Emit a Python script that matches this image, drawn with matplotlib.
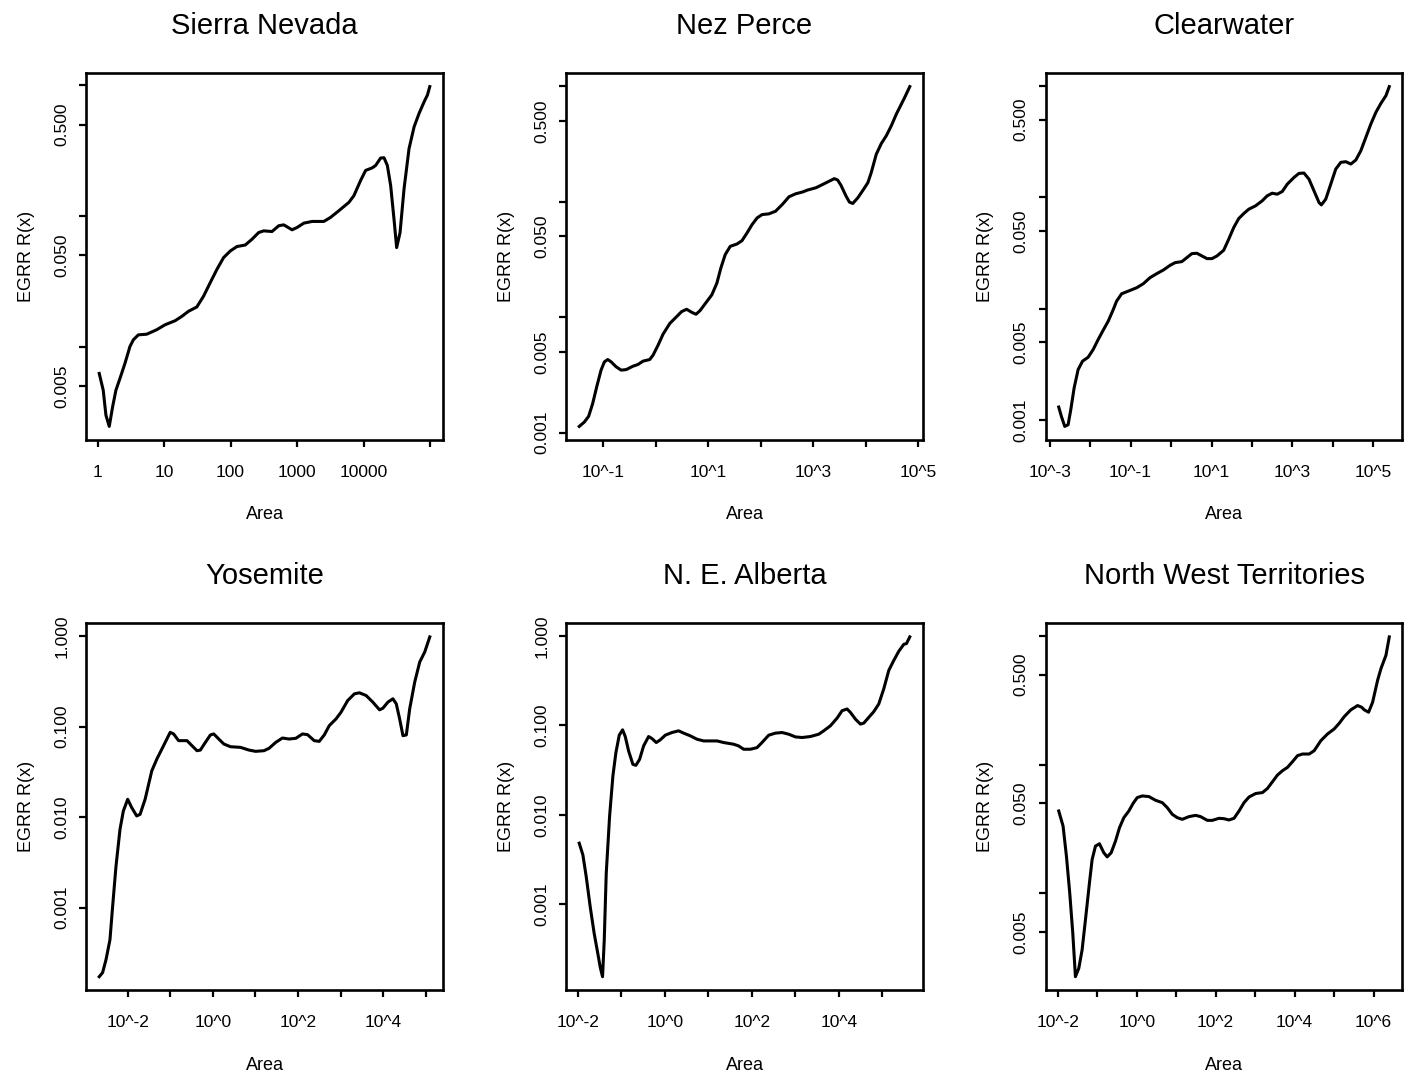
import numpy as np
import matplotlib
matplotlib.use("Agg")
import matplotlib.pyplot as plt

plt.rcParams['font.family'] = ['Liberation Sans', 'DejaVu Sans']

# log10(Area) and log10(EGRR R(x)) for each region
sierra_logA = [0.025, 0.085, 0.126, 0.176, 0.226, 0.276, 0.337, 0.412, 0.487, 0.538,
               0.613, 0.739, 0.889, 1.015, 1.166, 1.266, 1.367, 1.492, 1.593, 1.693,
               1.794, 1.894, 1.995, 2.095, 2.221, 2.322, 2.422, 2.497, 2.623, 2.724,
               2.799, 2.925, 3.000, 3.101, 3.226, 3.402, 3.503, 3.628, 3.779, 3.854,
               3.955, 4.030, 4.131, 4.181, 4.256, 4.307, 4.357, 4.407, 4.457, 4.497,
               4.548, 4.608, 4.683, 4.759, 4.834, 4.910, 4.960, 4.995]
sierra_logR = [-2.204, -2.332, -2.524, -2.609, -2.460, -2.332, -2.242, -2.127, -1.998, -1.947,
               -1.909, -1.904, -1.870, -1.832, -1.801, -1.768, -1.729, -1.696, -1.614, -1.511,
               -1.409, -1.319, -1.268, -1.234, -1.222, -1.178, -1.127, -1.114, -1.119, -1.075,
               -1.068, -1.106, -1.088, -1.055, -1.042, -1.042, -1.011, -0.960, -0.896, -0.845,
               -0.729, -0.652, -0.632, -0.614, -0.557, -0.555, -0.614, -0.768, -1.024, -1.242,
               -1.127, -0.793, -0.486, -0.319, -0.216, -0.127, -0.075, -0.011]

nez_logA = [-1.461, -1.365, -1.282, -1.205, -1.128, -1.045, -0.981, -0.917, -0.853, -0.757,
            -0.661, -0.565, -0.437, -0.341, -0.245, -0.117, -0.053, 0.043, 0.139, 0.267,
            0.395, 0.491, 0.587, 0.683, 0.766, 0.843, 0.971, 1.067, 1.163, 1.239,
            1.322, 1.418, 1.546, 1.642, 1.738, 1.834, 1.930, 2.026, 2.154, 2.282,
            2.410, 2.538, 2.666, 2.794, 2.890, 3.050, 3.146, 3.274, 3.402, 3.466,
            3.530, 3.626, 3.690, 3.754, 3.850, 3.946, 4.042, 4.106, 4.202, 4.298,
            4.393, 4.489, 4.585, 4.681, 4.745, 4.841]
nez_logR = [-2.947, -2.910, -2.860, -2.750, -2.605, -2.460, -2.388, -2.368, -2.388, -2.431,
            -2.460, -2.455, -2.426, -2.411, -2.382, -2.368, -2.330, -2.243, -2.147, -2.055,
            -1.997, -1.953, -1.933, -1.959, -1.976, -1.944, -1.866, -1.808, -1.707, -1.576,
            -1.460, -1.388, -1.368, -1.339, -1.272, -1.200, -1.142, -1.113, -1.107, -1.084,
            -1.026, -0.959, -0.933, -0.918, -0.901, -0.881, -0.860, -0.831, -0.802, -0.814,
            -0.860, -0.953, -1.005, -1.017, -0.968, -0.904, -0.837, -0.750, -0.591, -0.498,
            -0.431, -0.344, -0.243, -0.156, -0.098, -0.005]

clear_logA = [-2.777, -2.711, -2.628, -2.545, -2.479, -2.396, -2.297, -2.189, -2.049, -1.925,
              -1.801, -1.677, -1.553, -1.428, -1.346, -1.222, -1.056, -0.850, -0.684, -0.519,
              -0.353, -0.188, -0.022, 0.102, 0.267, 0.391, 0.515, 0.639, 0.763, 0.888,
              1.012, 1.136, 1.301, 1.425, 1.549, 1.673, 1.797, 1.921, 2.087, 2.252,
              2.376, 2.500, 2.624, 2.749, 2.873, 3.038, 3.162, 3.286, 3.410, 3.534,
              3.658, 3.716, 3.824, 3.948, 4.072, 4.196, 4.320, 4.444, 4.568, 4.692,
              4.816, 4.940, 5.064, 5.189, 5.313, 5.395]
clear_logR = [-2.884, -2.968, -3.058, -3.043, -2.908, -2.712, -2.547, -2.472, -2.436, -2.367,
              -2.277, -2.193, -2.112, -2.007, -1.932, -1.866, -1.842, -1.812, -1.775, -1.721,
              -1.685, -1.652, -1.610, -1.586, -1.577, -1.541, -1.505, -1.502, -1.526, -1.550,
              -1.550, -1.526, -1.475, -1.376, -1.271, -1.190, -1.145, -1.106, -1.076, -1.031,
              -0.986, -0.962, -0.971, -0.947, -0.881, -0.821, -0.784, -0.781, -0.836, -0.941,
              -1.046, -1.067, -1.016, -0.881, -0.745, -0.685, -0.679, -0.700, -0.664, -0.580,
              -0.460, -0.340, -0.235, -0.154, -0.085, -0.004]

yose_logA = [-2.669, -2.590, -2.511, -2.417, -2.354, -2.275, -2.181, -2.102, -2.000, -1.906,
             -1.788, -1.709, -1.591, -1.434, -1.315, -1.158, -1.001, -0.922, -0.804, -0.607,
             -0.489, -0.371, -0.293, -0.175, -0.057, 0.022, 0.140, 0.258, 0.415, 0.651,
             0.848, 1.006, 1.202, 1.320, 1.478, 1.635, 1.792, 1.950, 2.107, 2.225,
             2.382, 2.500, 2.618, 2.736, 2.894, 3.012, 3.169, 3.327, 3.445, 3.602,
             3.759, 3.917, 3.995, 4.113, 4.231, 4.310, 4.389, 4.467, 4.546, 4.625,
             4.743, 4.861, 4.979, 5.097]
yose_logR = [-3.761, -3.716, -3.576, -3.354, -2.985, -2.542, -2.135, -1.932, -1.803, -1.895,
             -1.987, -1.969, -1.803, -1.489, -1.359, -1.212, -1.064, -1.082, -1.156, -1.156,
             -1.212, -1.267, -1.260, -1.175, -1.093, -1.082, -1.138, -1.193, -1.223, -1.230,
             -1.260, -1.274, -1.267, -1.241, -1.175, -1.127, -1.138, -1.130, -1.082, -1.090,
             -1.156, -1.164, -1.093, -0.990, -0.916, -0.842, -0.713, -0.639, -0.628, -0.658,
             -0.731, -0.816, -0.798, -0.731, -0.694, -0.750, -0.916, -1.101, -1.093, -0.805,
             -0.510, -0.288, -0.177, -0.011]

alberta_logA = [-1.969, -1.885, -1.808, -1.716, -1.624, -1.540, -1.486, -1.433, -1.394, -1.348,
                -1.271, -1.195, -1.126, -1.049, -0.972, -0.911, -0.834, -0.735, -0.666, -0.581,
                -0.489, -0.374, -0.298, -0.198, -0.106, 0.009, 0.163, 0.316, 0.431, 0.584,
                0.738, 0.891, 1.198, 1.351, 1.581, 1.696, 1.811, 1.965, 2.118, 2.233,
                2.387, 2.540, 2.693, 2.847, 3.000, 3.153, 3.345, 3.537, 3.652, 3.805,
                3.959, 4.074, 4.189, 4.265, 4.380, 4.495, 4.572, 4.687, 4.802, 4.917,
                5.032, 5.147, 5.262, 5.377, 5.492, 5.554, 5.630]
alberta_logR = [-2.317, -2.448, -2.692, -3.030, -3.330, -3.555, -3.705, -3.810, -3.405, -2.655,
                -2.017, -1.567, -1.305, -1.110, -1.050, -1.125, -1.286, -1.436, -1.447, -1.380,
                -1.230, -1.125, -1.147, -1.192, -1.162, -1.110, -1.080, -1.061, -1.087, -1.117,
                -1.155, -1.174, -1.174, -1.192, -1.211, -1.230, -1.267, -1.267, -1.249, -1.192,
                -1.110, -1.087, -1.080, -1.099, -1.129, -1.136, -1.125, -1.099, -1.061, -1.005,
                -0.919, -0.836, -0.817, -0.855, -0.930, -0.986, -0.975, -0.911, -0.847, -0.761,
                -0.592, -0.386, -0.274, -0.172, -0.094, -0.086, -0.011]

nwt_logA = [-1.975, -1.865, -1.780, -1.696, -1.619, -1.552, -1.467, -1.383, -1.298, -1.197,
            -1.129, -1.044, -0.943, -0.833, -0.748, -0.647, -0.537, -0.436, -0.326, -0.199,
            -0.089, 0.013, 0.140, 0.309, 0.478, 0.647, 0.774, 0.901, 1.027, 1.154,
            1.323, 1.493, 1.619, 1.789, 1.915, 2.085, 2.211, 2.338, 2.465, 2.592,
            2.719, 2.846, 3.015, 3.184, 3.311, 3.438, 3.564, 3.691, 3.818, 3.945,
            4.072, 4.199, 4.368, 4.495, 4.664, 4.833, 5.002, 5.129, 5.256, 5.425,
            5.594, 5.696, 5.763, 5.873, 5.975, 6.101, 6.186, 6.313, 6.397]
nwt_logR = [-1.361, -1.478, -1.712, -1.999, -2.311, -2.650, -2.585, -2.442, -2.207, -1.921,
            -1.739, -1.634, -1.616, -1.686, -1.718, -1.686, -1.595, -1.491, -1.413, -1.361,
            -1.301, -1.257, -1.244, -1.249, -1.278, -1.296, -1.335, -1.387, -1.413, -1.426,
            -1.405, -1.395, -1.405, -1.434, -1.434, -1.418, -1.421, -1.431, -1.418, -1.361,
            -1.296, -1.252, -1.225, -1.218, -1.186, -1.134, -1.082, -1.048, -1.022, -0.978,
            -0.931, -0.918, -0.918, -0.892, -0.814, -0.762, -0.723, -0.679, -0.627, -0.574,
            -0.541, -0.554, -0.574, -0.593, -0.515, -0.345, -0.254, -0.150, -0.007]

titles = ["Sierra Nevada", "Nez Perce", "Clearwater",
          "Yosemite", "N. E. Alberta", "North West Territories"]
series = [(sierra_logA, sierra_logR), (nez_logA, nez_logR), (clear_logA, clear_logR),
          (yose_logA, yose_logR), (alberta_logA, alberta_logR), (nwt_logA, nwt_logR)]

# decade tick exponents on the x axis; labels on every other one
x_exps = [range(0, 6), range(-1, 6), range(-3, 6), range(-2, 6), range(-2, 6), range(-2, 7)]
sierra_xlabels = ["1", "10", "100", "1000", "10000", ""]

y_mid = [0.005, 0.01, 0.05, 0.1, 0.5, 1.0]
y_mid_lab = ["0.005", "", "0.050", "", "0.500", ""]
y_low = [0.001, 0.005, 0.01, 0.05, 0.1, 0.5, 1.0]
y_low_lab = ["0.001", "0.005", "", "0.050", "", "0.500", ""]
y_dec = [0.001, 0.01, 0.1, 1.0]
y_dec_lab = ["0.001", "0.010", "0.100", "1.000"]
y_ticks = [(y_mid, y_mid_lab), (y_low, y_low_lab), (y_low, y_low_lab),
           (y_dec, y_dec_lab), (y_dec, y_dec_lab), (y_mid, y_mid_lab)]

W, H = 1413, 1078
fig = plt.figure(figsize=(W / 100, H / 100), dpi=100)

col_left = [86, 566, 1045.5]
row_top = [73, 623.3]
box_w, box_h = 357, 367

for i, (logA, logR) in enumerate(series):
    r, c = divmod(i, 3)
    ax = fig.add_axes([col_left[c] / W, 1 - (row_top[r] + box_h) / H, box_w / W, box_h / H])
    lx = np.array(logA)
    ly = np.array(logR)
    ax.plot(10 ** lx, 10 ** ly, color="black", lw=2.2, solid_joinstyle="round")
    ax.set_xscale("log")
    ax.set_yscale("log")

    # 4% padding in log space
    px = 0.04 * (lx.max() - lx.min())
    py = 0.04 * (ly.max() - ly.min())
    ax.set_xlim(10 ** (lx.min() - px), 10 ** (lx.max() + px))
    ax.set_ylim(10 ** (ly.min() - py), 10 ** (ly.max() + py))

    exps = list(x_exps[i])
    if i == 0:
        labs = sierra_xlabels
    else:
        labs = [f"10^{e}" if (e - exps[0]) % 2 == 0 else "" for e in exps]
    ax.xaxis.set_major_locator(matplotlib.ticker.FixedLocator([10.0 ** e for e in exps]))
    ax.xaxis.set_minor_locator(matplotlib.ticker.NullLocator())
    ax.set_xticklabels(labs, fontsize=12.5)

    yt, yl = y_ticks[i]
    ax.yaxis.set_major_locator(matplotlib.ticker.FixedLocator(yt))
    ax.yaxis.set_minor_locator(matplotlib.ticker.NullLocator())
    ax.set_yticklabels(yl, fontsize=12.5, rotation=90, va="center")

    ax.tick_params(axis="both", direction="out", length=5, width=1.6)
    ax.tick_params(axis="x", pad=13)
    ax.tick_params(axis="y", pad=7)
    for sp in ax.spines.values():
        sp.set_linewidth(1.9)

    ax.set_xlabel("Area", fontsize=13, labelpad=19)
    ax.set_ylabel("EGRR R(x)", fontsize=13, labelpad=14)
    ax.set_title(titles[i], fontsize=21, pad=28)

fig.savefig("out.png", dpi=100)
